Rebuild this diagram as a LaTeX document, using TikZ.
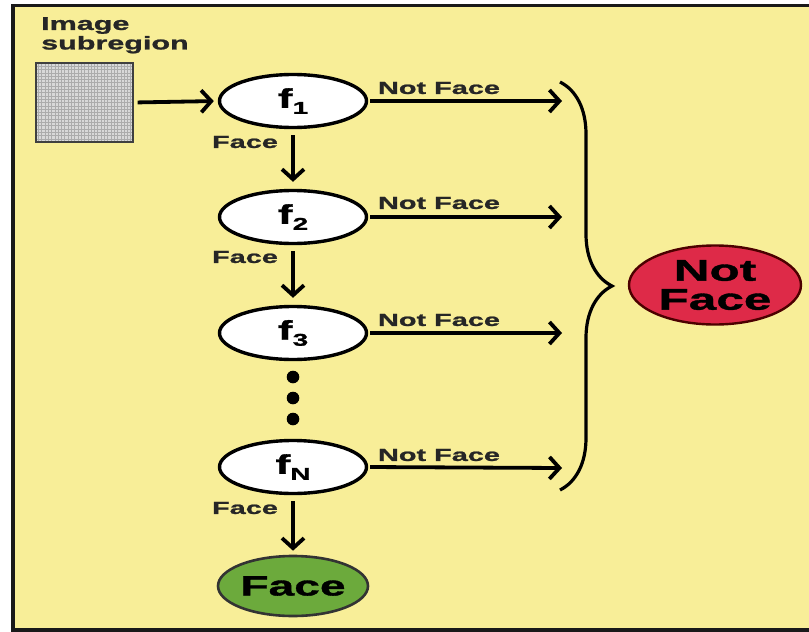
\documentclass[tikz,border=0pt]{standalone}
\usepackage{fontspec}
\setmainfont{Liberation Sans}
\newfontfamily\wf{Liberation Sans}[FakeStretch=1.65,FakeBold=1.2]
\usetikzlibrary{arrows.meta,shapes.geometric,decorations.pathreplacing}
\definecolor{bgy}{RGB}{248,238,152}
\definecolor{redface}{RGB}{222,42,72}
\definecolor{greenface}{RGB}{108,170,60}
\tikzset{
  stage/.style={ellipse, draw=black, line width=3.4pt, fill=white, minimum width=147pt, minimum height=53pt, inner sep=0pt, font=\wf\bfseries\fontsize{27}{27}\selectfont},
  arr/.style={-{Straight Barb[length=10pt,width=22pt]}, line width=3.8pt},
  lbl/.style={font=\wf\bfseries\fontsize{17.5}{17.5}\selectfont, inner sep=0pt, text=black!85},
}
\newcommand{\sbs}[1]{\raisebox{-6pt}{\fontsize{17}{17}\selectfont #1}}
\begin{document}
\begin{tikzpicture}[x=1pt,y=-1pt]
\useasboundingbox (0,0) rectangle (809,632);
\clip (0,0) rectangle (809,632);
\fill[white] (0,0) rectangle (809,632);
\draw[fill=bgy, line width=3.5pt, draw=black!90] (13,5.5) rectangle (840,630);

\node[lbl, font=\wf\bfseries\fontsize{18.5}{19.5}\selectfont, align=left, anchor=north west] (title) at (41,17) {Image\\subregion};

\node[draw=gray!50!black, line width=1.4pt, fill=gray!30, minimum width=97pt, minimum height=79pt, inner sep=0pt,
  path picture={\draw[gray!65, line width=0.5pt, step=3.3pt] (path picture bounding box.south west) grid (path picture bounding box.north east);}] (img) at (84.5,102.5) {};

\node[stage] (f1) at (293,101) {f\sbs{1}};
\node[stage] (f2) at (293,217) {f\sbs{2}};
\node[stage] (f3) at (293,333) {f\sbs{3}};
\node[stage] (fN) at (293,467) {f\sbs{N}};
\node[ellipse, draw=black!80, line width=2.6pt, fill=greenface, minimum width=150pt, minimum height=60pt, inner sep=0pt, font=\wf\bfseries\fontsize{28}{28}\selectfont] (face) at (293,586) {Face};
\node[ellipse, draw=black!70!red, line width=2.4pt, fill=redface, minimum width=172pt, minimum height=79pt, inner sep=0pt, align=center, font=\wf\bfseries\fontsize{30}{29}\selectfont] (notface) at (715,285) {Not\\Face};

\foreach \y [count=\i] in {377,398,419} \fill (293,\y) circle (6.3pt) coordinate (dot\i);

\coordinate (e1) at (562,101);
\coordinate (e2) at (562,217);
\coordinate (e3) at (562,333);
\coordinate (eN) at (562,468);

\draw[arr, shorten <=4pt, shorten >=4pt] (img.east) -- (f1.west);
\draw[arr, shorten <=6pt, shorten >=7pt] (f1.south) -- (f2.north);
\draw[arr, shorten <=6pt, shorten >=7pt] (f2.south) -- (f3.north);
\draw[arr, shorten <=6pt, shorten >=4pt] (fN.south) -- (face.north);

\draw[arr, shorten <=2pt] (f1.east) -- (e1);
\draw[arr, shorten <=2pt] (f2.east) -- (e2);
\draw[arr, shorten <=2pt] (f3.east) -- (e3);
\draw[arr, shorten <=2pt] (fN.east) -- (eN);

\node[lbl] (nl1) at (439,88) {Not Face};
\node[lbl] (nl2) at (439,203) {Not Face};
\node[lbl] (nl3) at (439,320) {Not Face};
\node[lbl] (nlN) at (439,455) {Not Face};
\node[lbl] (fl1) at (245,142) {Face};
\node[lbl] (fl2) at (245,257) {Face};
\node[lbl] (flN) at (245,508) {Face};

\coordinate (btop) at (560,82);
\coordinate (bbot) at (560,490);
\draw[line width=3.2pt, decorate, decoration={brace, amplitude=52pt, aspect=0.5}] (btop) -- (bbot);
\end{tikzpicture}
\end{document}
